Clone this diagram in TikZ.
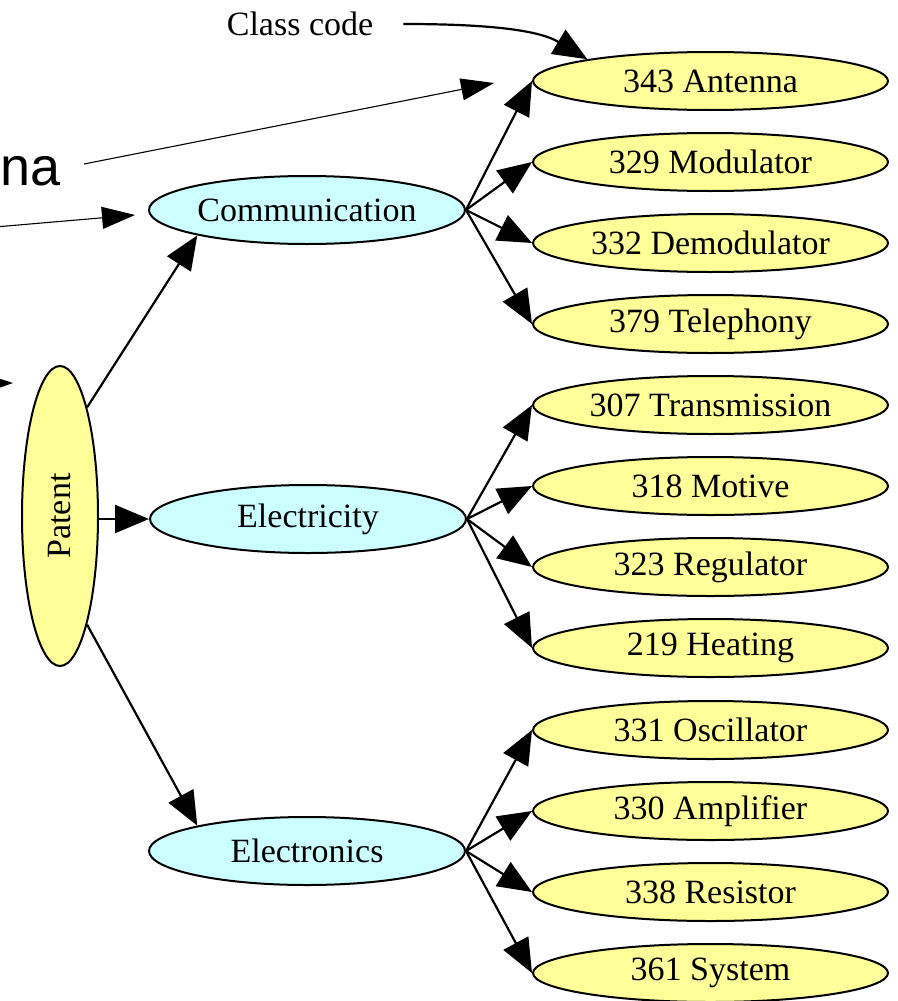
\documentclass[tikz,border=0pt]{standalone}
\usepackage{fontspec}
\usepackage{graphicx}
\setmainfont{Liberation Serif}
\newfontfamily\annfont{Liberation Sans}
\usetikzlibrary{shapes.geometric,arrows.meta}
\definecolor{nodeyellow}{RGB}{255,255,153}
\definecolor{nodecyan}{RGB}{204,255,255}
\begin{document}
\begin{tikzpicture}[x=1pt,y=-1pt,
  basenode/.style={ellipse, draw=black, line width=2pt, inner sep=0pt, font=\fontsize{34}{40}\selectfont},
  leaf/.style={basenode, fill=nodeyellow, minimum width=355pt, minimum height=58pt},
  midnode/.style={basenode, fill=nodecyan, minimum width=316pt, minimum height=68pt},
  rootnode/.style={basenode, fill=nodeyellow, minimum width=76pt, minimum height=300pt},
  graphedge/.style={line width=2.2pt, -{Triangle[length=34pt,width=28pt]}},
  noteedge/.style={line width=1.1pt, -{Triangle[length=33pt,width=22pt]}},
]
\useasboundingbox (0,0) rectangle (897,1001);
\clip (0,0) rectangle (897,1001);

% nodes
\node[rootnode] (patent) at (60,516) {\rotatebox{90}{Patent}};
\node[midnode] (comm) at (307,210) {Communication};
\node[midnode] (elec) at (308,519) {Electricity};
\node[midnode] (etro) at (307,851) {Electronics};

\node[leaf] (ant)   at (710.5,81)  {343 Antenna};
\node[leaf] (mod)   at (710.5,162) {329 Modulator};
\node[leaf] (demod) at (710.5,243) {332 Demodulator};
\node[leaf] (tel)   at (710.5,324) {379 Telephony};
\node[leaf] (trans) at (710.5,405) {307 Transmission};
\node[leaf] (mot)   at (710.5,486) {318 Motive};
\node[leaf] (reg)   at (710.5,567) {323 Regulator};
\node[leaf] (heat)  at (710.5,648) {219 Heating};
\node[leaf] (osc)   at (710.5,730) {331 Oscillator};
\node[leaf] (amp)   at (710.5,811) {330 Amplifier};
\node[leaf] (res)   at (710.5,892) {338 Resistor};
\node[leaf] (sys)   at (710.5,973) {361 System};

\node[font=\fontsize{34}{40}\selectfont, inner ysep=0pt, inner xsep=30pt] (cc) at (300,24) {Class code};
\node[font=\annfont\fontsize{54}{60}\selectfont, anchor=base west, inner sep=0pt] (na) at (0,185) {na};

% graph edges
\draw[graphedge] (patent.76) -- (comm.193);
\draw[graphedge] (elec.west -| patent.east) -- (elec.west);
\draw[graphedge] (patent.-76) -- (etro.167);
\foreach \c in {ant,mod,demod,tel} \draw[graphedge] (comm.east) -- (\c.west);
\foreach \c in {trans,mot,reg,heat} \draw[graphedge] (elec.east) -- (\c.west);
\foreach \c in {osc,amp,res,sys} \draw[graphedge] (etro.east) -- (\c.west);

% class code pointer
\draw[graphedge] (cc.east) .. controls +(80,0) and +(-50,-30) .. (ant.170);

% annotation arrows
\coordinate (n1s) at (84,164);
\coordinate (n1e) at (494,83);
\coordinate (n2s) at (-5,227);
\coordinate (n2e) at (135,215);
\coordinate (n3s) at (-60,384);
\coordinate (n3e) at (13,383);
\draw[noteedge] (n1s) -- (n1e);
\draw[noteedge] (n2s) -- (n2e);
\draw[noteedge] (n3s) -- (n3e);
\end{tikzpicture}
\end{document}
